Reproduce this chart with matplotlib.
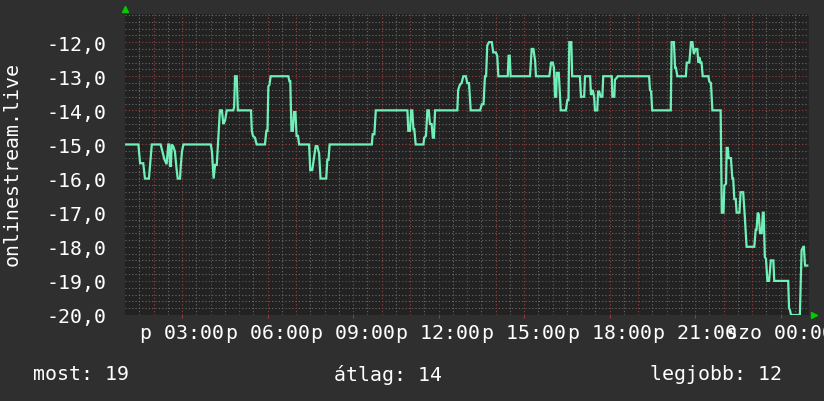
import numpy as np
import matplotlib
matplotlib.use("Agg")
import matplotlib.pyplot as plt

# ---- data (time of day in hours, 1.0 = 01:00, 24.0 = next-day 00:00) ----
hours = [
    1.00, 1.47, 1.53, 1.64, 1.70, 1.84, 1.89, 1.94, 2.25, 2.31, 2.38, 2.46, 2.52, 2.55, 2.58, 2.61,
    2.64, 2.69, 2.75, 2.81, 2.85, 2.93, 2.96, 3.00, 3.05, 4.01, 4.05, 4.11, 4.16, 4.22, 4.27, 4.33,
    4.40, 4.45, 4.51, 4.57, 4.80, 4.83, 4.86, 4.92, 4.96, 5.42, 5.45, 5.49, 5.56, 5.62, 5.91, 5.96,
    6.00, 6.03, 6.07, 6.11, 6.73, 6.77, 6.80, 6.84, 6.89, 6.93, 6.98, 7.02, 7.07, 7.11, 7.46, 7.50,
    7.57, 7.63, 7.69, 7.75, 7.79, 7.81, 7.86, 8.06, 8.10, 8.14, 8.18, 9.66, 9.69, 9.75, 9.80, 10.91,
    10.94, 11.00, 11.04, 11.08, 11.12, 11.15, 11.20, 11.47, 11.50, 11.56, 11.61, 11.66, 11.70, 11.76,
    11.80, 11.84, 11.88, 12.66, 12.69, 12.75, 12.81, 12.87, 12.96, 13.01, 13.07, 13.13, 13.46, 13.52,
    13.58, 13.63, 13.67, 13.71, 13.77, 13.87, 13.92, 14.01, 14.06, 14.10, 14.43, 14.46, 14.50, 14.53,
    15.21, 15.27, 15.33, 15.39, 15.42, 15.89, 15.95, 16.01, 16.05, 16.09, 16.13, 16.15, 16.22, 16.29,
    16.47, 16.52, 16.56, 16.59, 16.66, 16.69, 16.96, 17.00, 17.11, 17.14, 17.32, 17.35, 17.41, 17.46,
    17.49, 17.57, 17.60, 17.64, 17.69, 17.75, 17.78, 18.08, 18.10, 18.17, 18.19, 18.25, 18.29, 19.39,
    19.42, 19.46, 19.50, 20.15, 20.18, 20.26, 20.30, 20.33, 20.38, 20.68, 20.71, 20.80, 20.86, 20.91,
    20.96, 21.02, 21.08, 21.12, 21.16, 21.19, 21.23, 21.27, 21.47, 21.50, 21.56, 21.61, 21.90, 21.94,
    22.00, 22.03, 22.09, 22.11, 22.15, 22.18, 22.26, 22.31, 22.34, 22.38, 22.43, 22.46, 22.56, 22.60,
    22.69, 22.75, 22.81, 23.08, 23.13, 23.16, 23.20, 23.24, 23.28, 23.34, 23.38, 23.41, 23.45, 23.49,
    23.54, 23.60, 23.66, 23.75, 23.78, 24.27, 24.30, 24.33, 24.37, 24.68, 24.74, 24.80, 24.82, 24.86,
    24.94,
]
rank = [
    -15.0, -15.0, -15.55, -15.55, -16.0, -16.0, -15.5, -15.0, -15.0, -15.2, -15.43, -15.58, -15.0, -15.0, -15.63, -15.63,
    -15.0, -15.05, -15.2, -15.72, -16.0, -16.0, -15.6, -15.2, -15.0, -15.0, -15.2, -16.0, -15.6, -15.6, -14.85, -14.0,
    -14.0, -14.4, -14.3, -14.0, -14.0, -13.9, -13.0, -13.0, -14.0, -14.0, -14.6, -14.75, -14.8, -15.0, -15.0, -14.6,
    -14.6, -13.3, -13.25, -13.0, -13.0, -13.15, -13.15, -14.6, -14.6, -14.05, -14.05, -14.75, -14.75, -15.0, -15.0, -15.75,
    -15.75, -15.4, -15.05, -15.05, -15.2, -15.25, -16.0, -16.0, -15.45, -15.45, -15.0, -15.0, -14.7, -14.7, -14.0, -14.0,
    -14.6, -14.6, -14.0, -14.0, -14.55, -14.55, -15.0, -15.0, -14.8, -14.75, -14.0, -14.0, -14.4, -14.4,
    -14.8, -14.8, -14.0, -14.0, -13.4, -13.25, -13.2, -13.0, -13.0, -13.2, -13.2, -14.0, -14.0, -13.82,
    -13.82, -13.0, -13.0, -12.1, -12.0, -12.0, -12.3, -12.3, -12.4, -13.0, -13.0, -12.4, -12.4, -13.0,
    -13.0, -12.2, -12.2, -12.55, -13.0, -13.0, -12.6, -12.6, -12.75, -13.6, -13.6, -12.9, -12.9, -14.0,
    -14.0, -13.7, -13.7, -12.0, -12.0, -13.0, -13.0, -13.6, -13.6, -13.0, -13.0, -13.55, -13.4, -13.6,
    -14.0, -14.0, -13.45, -13.45, -13.6, -13.6, -13.0, -13.0, -13.6, -13.6, -13.1, -13.05, -13.0, -13.0,
    -13.4, -13.45, -14.0, -14.0, -12.0, -12.0, -12.75, -12.75, -13.0, -13.0, -12.6, -12.6, -12.0, -12.0,
    -12.35, -12.2, -12.2, -12.6, -12.45, -12.6, -12.6, -13.0, -13.0, -13.15, -13.2, -14.0, -14.0, -17.0,
    -17.0, -16.2, -16.15, -15.1, -15.1, -15.4, -15.4, -16.0, -16.0, -16.6, -16.6, -17.0, -17.0, -16.4,
    -16.4, -17.14, -18.0, -18.0, -17.5, -17.5, -17.0, -17.05, -17.6, -17.6, -17.0, -17.0, -18.3, -18.35,
    -19.0, -19.0, -18.4, -18.4, -19.0, -19.0, -19.8, -19.85, -20.0, -20.0, -18.1, -18.0, -18.0, -18.55,
    -18.55,
]
ytick_values = [-12, -13, -14, -15, -16, -17, -18, -19, -20]
xtick_hours = [3, 6, 9, 12, 15, 18, 21, 24]
xtick_labels = ["p 03:00", "p 06:00", "p 09:00", "p 12:00", "p 15:00", "p 18:00", "p 21:00", "szo 00:00"]
ylabel = "onlinestream.live"
legend_items = ["most: 19", "átlag: 14", "legjobb: 12"]

# ---- style ----
BG = "#2f2f2f"
PLOT_BG = "#222222"
LINE = "#70f0b8"
MINOR = "#6a6a6a"
MAJOR = "#944040"
FONT = "DejaVu Sans Mono"
FS = 14.3

W, H = 824, 402
fig = plt.figure(figsize=(W / 100, H / 100), dpi=100, facecolor=BG)
L, R, T, B = 125, 809, 14.5, 316
ax = fig.add_axes([L / W, (H - B) / H, (R - L) / W, (B - T) / H])
ax.set_facecolor(PLOT_BG)
for s in ax.spines.values():
    s.set_visible(False)

x0, x1 = 1.0, 25.0
y0, y1 = -20.0, -11.16
ax.set_xlim(x0, x1)
ax.set_ylim(y0, y1)

# grid
dot = (0, (1, 2))
for v in np.arange(-20.0, -11.1, 0.2):
    major = abs(v - round(v)) < 1e-6
    ax.axhline(v, color=MAJOR if major else MINOR, lw=0.8, ls=dot, zorder=1)
for h in np.arange(1.5, 25.0, 0.5):
    major = abs(h - round(h)) < 1e-6
    ax.axvline(h, color=MAJOR if major else MINOR, lw=0.8, ls=dot, zorder=1)

ax.plot(hours, rank, color=LINE, lw=1.6, zorder=3, solid_joinstyle="miter")

ax.set_yticks(ytick_values)
ax.set_yticklabels([f"{v:.1f}".replace(".", ",") for v in ytick_values],
                   fontfamily=FONT, fontsize=FS, color="white")
ax.set_xticks(xtick_hours)
ax.set_xticklabels(xtick_labels, fontfamily=FONT, fontsize=FS, color="white")
ax.tick_params(axis="y", length=0, pad=13)
ax.tick_params(axis="x", length=2, color=MAJOR, pad=4)

# arrows
ax.plot([0], [1.0 + 4.5 / (B - T)], marker="^", ms=5, color="#00cc00",
        transform=ax.transAxes, clip_on=False, zorder=5)
ax.plot([1.0 + 5 / (R - L)], [0], marker=">", ms=5, color="#00cc00",
        transform=ax.transAxes, clip_on=False, zorder=5)

fig.text(12 / W, 1 - 164 / H, ylabel, rotation=90, ha="center", va="center",
         fontfamily=FONT, fontsize=FS, color="white")

for xpos, txt in zip([33, 334, 650], legend_items):
    fig.text(xpos / W, 1 - 375 / H, txt, ha="left", va="center",
             fontfamily=FONT, fontsize=FS, color="white")

fig.savefig("out.png", dpi=100, facecolor=BG)
